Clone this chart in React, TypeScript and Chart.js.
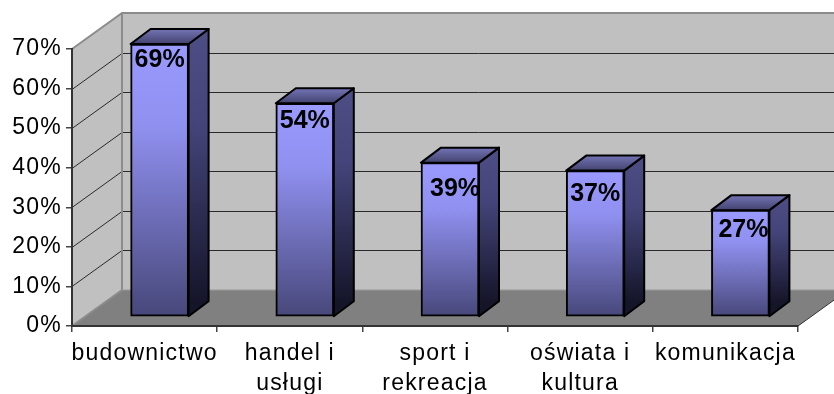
import React, { useEffect, useRef } from "react";
import { Chart, registerables } from "chart.js";

Chart.register(...registerables);

const categories: (string | string[])[] = [
  "budownictwo",
  ["handel i", "usługi"],
  ["sport i", "rekreacja"],
  ["oświata i", "kultura"],
  "komunikacja",
];
const shares = [69, 54, 39, 37, 27];
const axisMax = 70;
const axisStep = 10;

const FONT = '"Liberation Sans", Arial, sans-serif';
const WALL = { dx: 50, dy: 36 };
const FRONT = { dx: 15, dy: 9 };
const DEPTH = { dx: 20, dy: 15 };
// hand nudges of the value labels relative to the top centre of each bar
const labelNudgeX = [0, 0, 5, 0, 3];
const labelNudgeY = [15, 17, 25, 23, 19];

const scene = {
  id: "scene3d",
  beforeDraw(chart: any) {
    const { ctx, chartArea: a, scales } = chart;
    const y = scales.y;
    ctx.save();
    // back wall
    ctx.fillStyle = "#c0c0c0";
    ctx.beginPath();
    ctx.moveTo(a.left, a.top);
    ctx.lineTo(a.left + WALL.dx, a.top - WALL.dy);
    ctx.lineTo(a.right + WALL.dx, a.top - WALL.dy);
    ctx.lineTo(a.right + WALL.dx, a.bottom - WALL.dy);
    ctx.lineTo(a.left, a.bottom);
    ctx.closePath();
    ctx.fill();
    // grid
    ctx.strokeStyle = "#2a2a2a";
    ctx.lineWidth = 1;
    for (let v = axisStep; v < axisMax; v += axisStep) {
      const py = Math.round(y.getPixelForValue(v)) + 0.5;
      ctx.beginPath();
      ctx.moveTo(a.left, py);
      ctx.lineTo(a.left + WALL.dx, py - WALL.dy);
      ctx.lineTo(a.right + WALL.dx, py - WALL.dy);
      ctx.stroke();
    }
    // floor
    ctx.fillStyle = "#808080";
    ctx.beginPath();
    ctx.moveTo(a.left, a.bottom);
    ctx.lineTo(a.right, a.bottom);
    ctx.lineTo(a.right + WALL.dx, a.bottom - WALL.dy);
    ctx.lineTo(a.left + WALL.dx, a.bottom - WALL.dy);
    ctx.closePath();
    ctx.fill();
    // wall frame
    ctx.strokeStyle = "#8c8c8c";
    ctx.lineWidth = 2;
    ctx.beginPath();
    ctx.moveTo(a.left, a.top);
    ctx.lineTo(a.left + WALL.dx, a.top - WALL.dy);
    ctx.lineTo(a.right + WALL.dx, a.top - WALL.dy);
    ctx.moveTo(a.left + WALL.dx, a.top - WALL.dy);
    ctx.lineTo(a.left + WALL.dx, a.bottom - WALL.dy);
    ctx.moveTo(a.left, a.bottom);
    ctx.lineTo(a.left + WALL.dx, a.bottom - WALL.dy);
    ctx.stroke();
    ctx.strokeStyle = "#9a9a9a";
    ctx.lineWidth = 1;
    ctx.beginPath();
    ctx.moveTo(a.left + WALL.dx, a.bottom - WALL.dy);
    ctx.lineTo(a.right + WALL.dx, a.bottom - WALL.dy);
    ctx.stroke();
    // floor front-right edge
    ctx.strokeStyle = "#333333";
    ctx.lineWidth = 1;
    ctx.beginPath();
    ctx.moveTo(a.right, a.bottom);
    ctx.lineTo(a.right + WALL.dx, a.bottom - WALL.dy);
    ctx.stroke();
    ctx.restore();
    (ctx as any).letterSpacing = "1.2px";
  },
  beforeDatasetDraw(chart: any) {
    const { ctx } = chart;
    ctx.save();
    (ctx as any).letterSpacing = "0px";
    ctx.translate(FRONT.dx, -FRONT.dy);
    const meta = chart.getDatasetMeta(0);
    meta.data.forEach((bar: any) => {
      const l = bar.x - bar.width / 2;
      const r = bar.x + bar.width / 2;
      const t = bar.y;
      const b = bar.base;
      const side = ctx.createLinearGradient(0, t - DEPTH.dy, 0, b - DEPTH.dy);
      side.addColorStop(0, "#4e4e86");
      side.addColorStop(0.35, "#44447a");
      side.addColorStop(1, "#15152a");
      ctx.fillStyle = side;
      ctx.strokeStyle = "#000";
      ctx.lineWidth = 2;
      ctx.lineJoin = "round";
      ctx.beginPath();
      ctx.moveTo(r, t);
      ctx.lineTo(r + DEPTH.dx, t - DEPTH.dy);
      ctx.lineTo(r + DEPTH.dx, b - DEPTH.dy);
      ctx.lineTo(r, b);
      ctx.closePath();
      ctx.fill();
      ctx.stroke();
      const top = ctx.createLinearGradient(0, t - DEPTH.dy, 0, t);
      top.addColorStop(0, "#7474b6");
      top.addColorStop(1, "#43436f");
      ctx.fillStyle = top;
      ctx.beginPath();
      ctx.moveTo(l, t);
      ctx.lineTo(l + DEPTH.dx, t - DEPTH.dy);
      ctx.lineTo(r + DEPTH.dx, t - DEPTH.dy);
      ctx.lineTo(r, t);
      ctx.closePath();
      ctx.fill();
      ctx.stroke();
    });
  },
  afterDatasetDraw(chart: any) {
    const { ctx } = chart;
    ctx.restore();
    const meta = chart.getDatasetMeta(0);
    ctx.save();
    (ctx as any).letterSpacing = "0px";
    ctx.fillStyle = "#000";
    ctx.font = `bold 25px ${FONT}`;
    ctx.textAlign = "center";
    ctx.textBaseline = "middle";
    meta.data.forEach((bar: any, i: number) => {
      ctx.fillText(
        `${shares[i]}%`,
        bar.x + FRONT.dx + labelNudgeX[i],
        bar.y - FRONT.dy + labelNudgeY[i] + 1
      );
    });
    ctx.restore();
  },
};

export default function App() {
  const ref = useRef<HTMLCanvasElement>(null);
  useEffect(() => {
    const chart = new Chart(ref.current!, {
      type: "bar",
      data: {
        labels: categories as any,
        datasets: [
          {
            data: shares,
            barThickness: 58,
            borderColor: "#000",
            borderWidth: 2,
            borderSkipped: false,
            backgroundColor: (c: any) => {
              const y = c.chart.scales.y;
              if (!y || c.raw == null) return "#9999ff";
              const y0 = y.getPixelForValue(c.raw);
              const y1 = y.getPixelForValue(0);
              if (!Number.isFinite(y0) || !Number.isFinite(y1)) return "#9999ff";
              const g = c.chart.ctx.createLinearGradient(0, y0, 0, y1);
              g.addColorStop(0, "#9a9aff");
              g.addColorStop(0.3, "#9090f0");
              g.addColorStop(1, "#47477a");
              return g;
            },
          },
        ],
      },
      options: {
        responsive: false,
        animation: false,
        layout: { padding: { top: 49, right: 36, left: 0, bottom: 0 } },
        plugins: { legend: { display: false }, tooltip: { enabled: false } },
        scales: {
          x: {
            afterFit: (s: any) => {
              s.height = 68;
            },
            grid: {
              drawOnChartArea: false,
              drawTicks: true,
              tickLength: 6,
              color: "#444",
              lineWidth: 1.5,
            },
            border: { color: "#333", width: 2 },
            ticks: {
              color: "#000",
              padding: 6,
              autoSkip: false,
              maxRotation: 0,
              minRotation: 0,
              font: { family: FONT, size: 23, lineHeight: 1.33 },
            },
          },
          y: {
            min: 0,
            max: axisMax,
            afterFit: (s: any) => {
              s.width = 72;
            },
            grid: {
              drawOnChartArea: false,
              drawTicks: true,
              tickLength: 6,
              color: "#444",
              lineWidth: 1.5,
            },
            border: { color: "#333", width: 2 },
            ticks: {
              color: "#000",
              stepSize: axisStep,
              padding: 4,
              callback: (v: any) => `${v}%`,
              font: { family: FONT, size: 23 },
            },
          },
        },
      },
      plugins: [scene],
    } as any);
    return () => chart.destroy();
  }, []);
  return (
    <canvas
      ref={ref}
      width={834}
      height={394}
      style={{ position: "fixed", left: 0, top: 0, display: "block" }}
    />
  );
}
